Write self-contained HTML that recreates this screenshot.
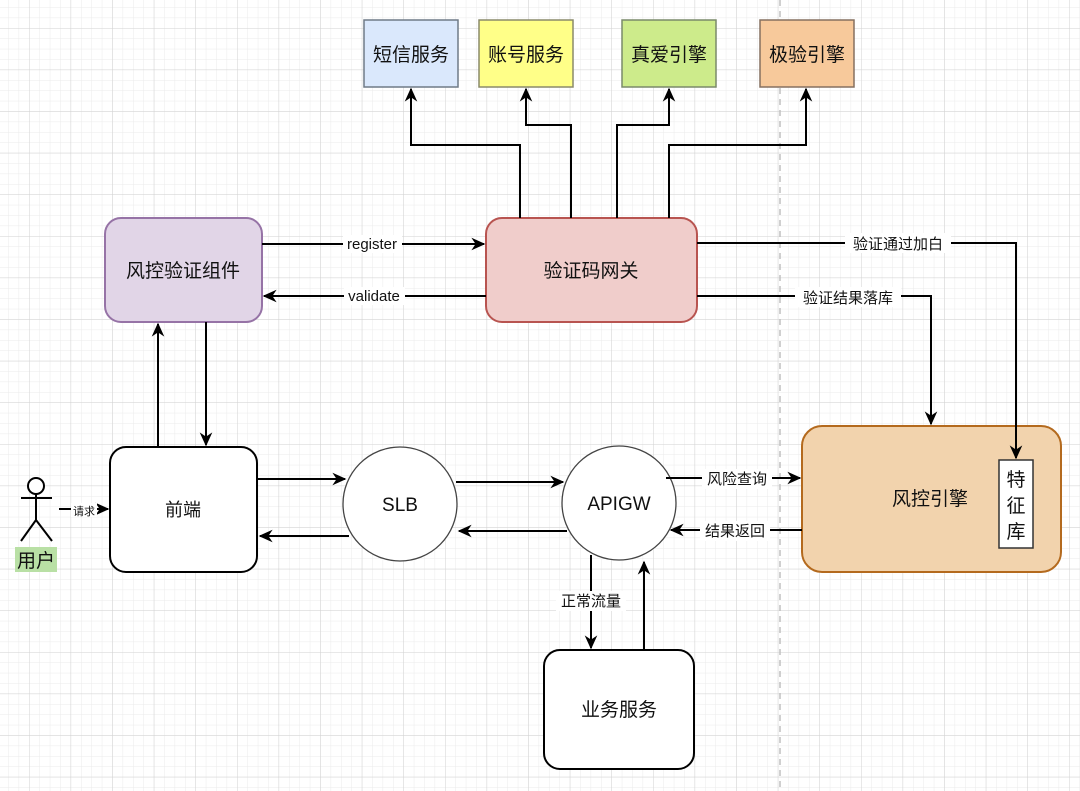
<!DOCTYPE html>
<html><head><meta charset="utf-8"><style>
html,body{margin:0;padding:0;background:#fff}
svg{display:block}
text{font-family:"Liberation Sans","Noto Sans CJK SC",sans-serif;fill:#111}
</style></head><body>
<svg width="1080" height="791" viewBox="0 0 1080 791" xmlns="http://www.w3.org/2000/svg">
<defs>
<pattern id="minor" x="29" y="28" width="10.4" height="10.4" patternUnits="userSpaceOnUse">
<path d="M0 0H10.4M0 0V10.4" stroke="#ebebeb" stroke-width="1" fill="none"/>
</pattern>
<pattern id="major" x="29" y="28" width="41.6" height="41.6" patternUnits="userSpaceOnUse">
<path d="M0 0H41.6M0 0V41.6" stroke="#d2d2d2" stroke-width="1" fill="none"/>
</pattern>
<marker id="b" viewBox="0 0 10 10" refX="9" refY="5" markerWidth="14" markerHeight="14" orient="auto" markerUnits="userSpaceOnUse">
<path d="M0 0.5L10 5L0 9.5L3 5z" fill="#000"/>
</marker>
</defs>
<rect width="1080" height="791" fill="url(#minor)"/>
<rect width="1080" height="791" fill="url(#major)"/>
<line x1="780" y1="0" x2="780" y2="791" stroke="#c0c0c0" stroke-width="1.5" stroke-dasharray="6,5"/>

<rect x="364" y="20" width="94" height="67" fill="#dae8fc" stroke="#6f7a87" stroke-width="1.5"/>
<text x="411" y="61" font-size="19" text-anchor="middle">短信服务</text>
<rect x="479" y="20" width="94" height="67" fill="#ffff88" stroke="#8a8a6a" stroke-width="1.5"/>
<text x="526" y="61" font-size="19" text-anchor="middle">账号服务</text>
<rect x="622" y="20" width="94" height="67" fill="#cdeb8b" stroke="#7a8a6a" stroke-width="1.5"/>
<text x="669" y="61" font-size="19" text-anchor="middle">真爱引擎</text>
<rect x="760" y="20" width="94" height="67" fill="#f7c99b" stroke="#857060" stroke-width="1.5"/>
<text x="807" y="61" font-size="19" text-anchor="middle">极验引擎</text>

<rect x="105" y="218" width="157" height="104" rx="16" fill="#e1d5e7" stroke="#9673a6" stroke-width="2"/>
<text x="183" y="277" font-size="19" text-anchor="middle">风控验证组件</text>
<rect x="486" y="218" width="211" height="104" rx="16" fill="#f0cdcb" stroke="#b85450" stroke-width="2"/>
<text x="591" y="277" font-size="19" text-anchor="middle">验证码网关</text>
<rect x="110" y="447" width="147" height="125" rx="16" fill="#fff" stroke="#000" stroke-width="2"/>
<text x="183" y="516" font-size="18" text-anchor="middle">前端</text>
<circle cx="400" cy="504" r="57" fill="#fff" stroke="#444" stroke-width="1.3"/>
<text x="400" y="511" font-size="19" text-anchor="middle">SLB</text>
<circle cx="619" cy="503" r="57" fill="#fff" stroke="#444" stroke-width="1.3"/>
<text x="619" y="510" font-size="19" text-anchor="middle">APIGW</text>
<rect x="802" y="426" width="259" height="146" rx="20" fill="#f2d3ad" stroke="#b46a1e" stroke-width="2"/>
<text x="930" y="505" font-size="19" text-anchor="middle">风控引擎</text>
<rect x="999" y="460" width="34" height="88" fill="#fff" stroke="#333" stroke-width="1.5"/>
<text x="1016" y="486" font-size="19" text-anchor="middle">特</text>
<text x="1016" y="512" font-size="19" text-anchor="middle">征</text>
<text x="1016" y="538" font-size="19" text-anchor="middle">库</text>
<rect x="544" y="650" width="150" height="119" rx="16" fill="#fff" stroke="#000" stroke-width="2"/>
<text x="619" y="716" font-size="19" text-anchor="middle">业务服务</text>

<g stroke="#000" stroke-width="2" fill="none">
<path d="M520 218V145H411V89" marker-end="url(#b)"/>
<path d="M571 218V125H526V89" marker-end="url(#b)"/>
<path d="M617 218V125H669V89" marker-end="url(#b)"/>
<path d="M669 218V145H806V89" marker-end="url(#b)"/>
<path d="M262 244H484" marker-end="url(#b)"/>
<path d="M486 296H264" marker-end="url(#b)"/>
<path d="M697 243H1016V458" marker-end="url(#b)"/>
<path d="M697 296H931V424" marker-end="url(#b)"/>
<path d="M158 447V324" marker-end="url(#b)"/>
<path d="M206 322V445" marker-end="url(#b)"/>
<path d="M257 479H345" marker-end="url(#b)"/>
<path d="M349 536H260" marker-end="url(#b)"/>
<path d="M456 482H563" marker-end="url(#b)"/>
<path d="M567 531H459" marker-end="url(#b)"/>
<path d="M666 478H800" marker-end="url(#b)"/>
<path d="M802 530H671" marker-end="url(#b)"/>
<path d="M591 555V648" marker-end="url(#b)"/>
<path d="M644 650V562" marker-end="url(#b)"/>
<path d="M59 509H108" marker-end="url(#b)"/>
</g>

<g>
<rect x="343" y="235" width="59" height="18" fill="#fff"/>
<text x="372" y="249" font-size="15" text-anchor="middle">register</text>
<rect x="344" y="287" width="61" height="18" fill="#fff"/>
<text x="374" y="301" font-size="15" text-anchor="middle">validate</text>
<rect x="845" y="233" width="106" height="20" fill="#fff"/>
<text x="898" y="249" font-size="15" text-anchor="middle">验证通过加白</text>
<rect x="795" y="287" width="106" height="20" fill="#fff"/>
<text x="848" y="303" font-size="15" text-anchor="middle">验证结果落库</text>
<rect x="702" y="469" width="70" height="20" fill="#fff"/>
<text x="737" y="484" font-size="15" text-anchor="middle">风险查询</text>
<rect x="700" y="521" width="70" height="20" fill="#fff"/>
<text x="735" y="536" font-size="15" text-anchor="middle">结果返回</text>
<rect x="556" y="591" width="70" height="20" fill="#fff"/>
<text x="591" y="606" font-size="15" text-anchor="middle">正常流量</text>
<rect x="71" y="503" width="26" height="14" fill="#fff"/>
<text x="84" y="515" font-size="11" text-anchor="middle">请求</text>
</g>

<g stroke="#000" stroke-width="2" fill="none">
<circle cx="36" cy="486" r="8" fill="#fff"/>
<path d="M36 494V520M21 498H52M36 520L21 541M36 520L52 541"/>
</g>
<rect x="15" y="547" width="42" height="25" fill="#b9e0a5"/>
<text x="36" y="567" font-size="19" text-anchor="middle">用户</text>
</svg>
</body></html>
